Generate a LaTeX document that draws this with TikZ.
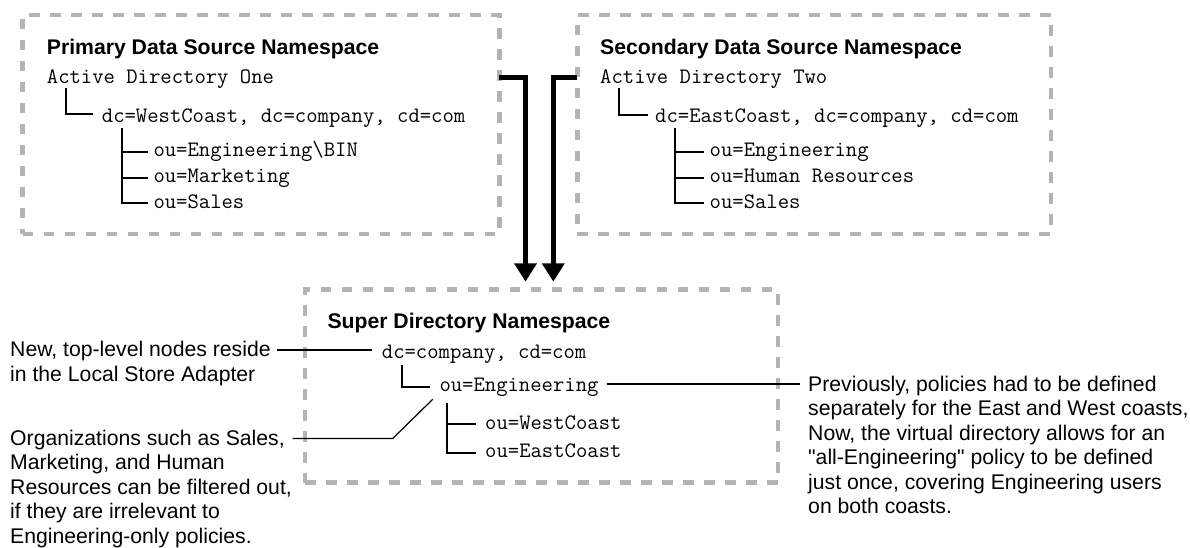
\documentclass[tikz,border=0pt]{standalone}
\usepackage{fontspec}
\setmainfont{Liberation Sans}[Ligatures=TeXOff]
\usetikzlibrary{arrows.meta,calc}
\definecolor{dashgray}{HTML}{B4B4B4}
\newcommand\mylines[1]{\begin{tabular}[t]{@{}l@{}}#1\end{tabular}}
\begin{document}
\begin{tikzpicture}[x=1pt,y=-1pt,
  dbox/.style={draw=dashgray, line width=4.5pt, dash pattern=on 10.7pt off 10.3pt,
    anchor=north west, inner sep=0pt, outer sep=0pt},
  title/.style={anchor=base west, inner sep=0pt, font=\fontsize{21.2}{24.5}\selectfont\bfseries},
  mono/.style={anchor=base west, inner sep=0pt, font=\fontsize{22.05}{26}\selectfont\ttfamily},
  note/.style={anchor=base west, inner sep=0pt, font=\fontsize{21.2}{24.5}\selectfont},
  tree/.style={line width=2pt},
  callout/.style={line width=1.2pt},
  bigarrow/.style={line width=5.5pt, -{Triangle[width=21.7pt,length=18.4pt]}}]
\fill[white] (0,0) rectangle (1190,548);
\useasboundingbox (0,0) rectangle (1190,548);

% boxes
\node[dbox, minimum width=476.6pt, minimum height=219pt] (b1) at (22.7,15) {};
\node[dbox, minimum width=473.7pt, minimum height=219pt] (b2) at (577.3,15) {};
\node[dbox, minimum width=473pt, minimum height=193.4pt] (b3) at (305,289.3) {};

% box 1
\node[title] (t1) at (46.7,55) {Primary Data Source Namespace};
\node[mono] (ad1) at (46.7,83.3) {Active Directory One};
\node[mono] (dc1) at (101.7,122.7) {dc=WestCoast, dc=company, cd=com};
\node[mono] (e1) at (153.3,156.7) {ou=Engineering\textbackslash BIN};
\node[mono] (m1) at (153.3,182.7) {ou=Marketing};
\node[mono] (s1) at (153.3,208.3) {ou=Sales};
\draw[tree] ($(ad1.base west)+(19,4.7)$) |- ($(dc1.base west)+(-8.4,-8.4)$);
\draw[tree] ($(dc1.base west)+(20,5.6)$) |- ($(s1.base west)+(-5,-5)$);
\draw[tree] ($(e1.base west)+(-31.6,-5)$) -- ($(e1.base west)+(-5,-5)$);
\draw[tree] ($(m1.base west)+(-31.6,-5)$) -- ($(m1.base west)+(-5,-5)$);

% box 2
\node[title] (t2) at (600,55) {Secondary Data Source Namespace};
\node[mono] (ad2) at (600,83.3) {Active Directory Two};
\node[mono] (dc2) at (655,122.7) {dc=EastCoast, dc=company, cd=com};
\node[mono] (e2) at (709.5,156.7) {ou=Engineering};
\node[mono] (h2) at (709.5,182.7) {ou=Human Resources};
\node[mono] (s2) at (709.5,208.3) {ou=Sales};
\draw[tree] ($(ad2.base west)+(19.3,4.7)$) |- ($(dc2.base west)+(-6.7,-7.7)$);
\draw[tree] ($(dc2.base west)+(20,5.6)$) |- ($(s2.base west)+(-5.5,-5)$);
\draw[tree] ($(e2.base west)+(-34.5,-5)$) -- ($(e2.base west)+(-5.5,-5)$);
\draw[tree] ($(h2.base west)+(-34.5,-5)$) -- ($(h2.base west)+(-5.5,-5)$);

% box 3
\node[title] (t3) at (327.3,328.3) {Super Directory Namespace};
\node[mono] (dcs) at (381.7,358.3) {dc=company, cd=com};
\node[mono] (eng) at (439.3,391.7) {ou=Engineering};
\node[mono] (w3) at (485,429.5) {ou=WestCoast};
\node[mono] (ea3) at (485,457.5) {ou=EastCoast};
\draw[tree] ($(dcs.base west)+(20,6.7)$) |- ($(eng.base west)+(-9.3,-5)$);
\draw[tree] ($(eng.base west)+(8,11)$) |- ($(ea3.base west)+(-9.3,-4.8)$);
\draw[tree] ($(w3.base west)+(-37.7,-5.2)$) -- ($(w3.base west)+(-9.3,-5.2)$);

% arrows
\draw[bigarrow] ($(b1.north east)+(0,62.3)$) -| ($(b3.north west)+(220.5,-7.6)$);
\draw[bigarrow] ($(b2.north west)+(0,62.3)$) -| ($(b3.north west)+(248.3,-7.6)$);

% notes
\node[note] (new) at (10,356.5) {\mylines{New, top-level nodes reside\\in the Local Store Adapter}};
\node[note] (org) at (10,445) {\mylines{Organizations such as Sales,\\Marketing, and Human\\Resources can be filtered out,\\if they are irrelevant to\\Engineering-only policies.}};
\node[note] (prev) at (808,391) {\mylines{Previously, policies had to be defined\\separately for the East and West coasts,\\Now, the virtual directory allows for an\\"all-Engineering" policy to be defined\\just once, covering Engineering users\\on both coasts.}};

% callouts
\draw[callout] ($(new.base east)+(6,-6.5)$) -- ($(dcs.base west)+(-10,-8.3)$);
\draw[callout] ($(org.base east)+(0.5,-6.5)$) -- ($(eng.base west)+(-46.6,46.8)$) -- ($(eng.base west)+(-6.6,7.6)$);
\draw[callout] ($(eng.base east)+(8,-7.7)$) -- ($(prev.base west)+(-8,-7)$);
\end{tikzpicture}
\end{document}
